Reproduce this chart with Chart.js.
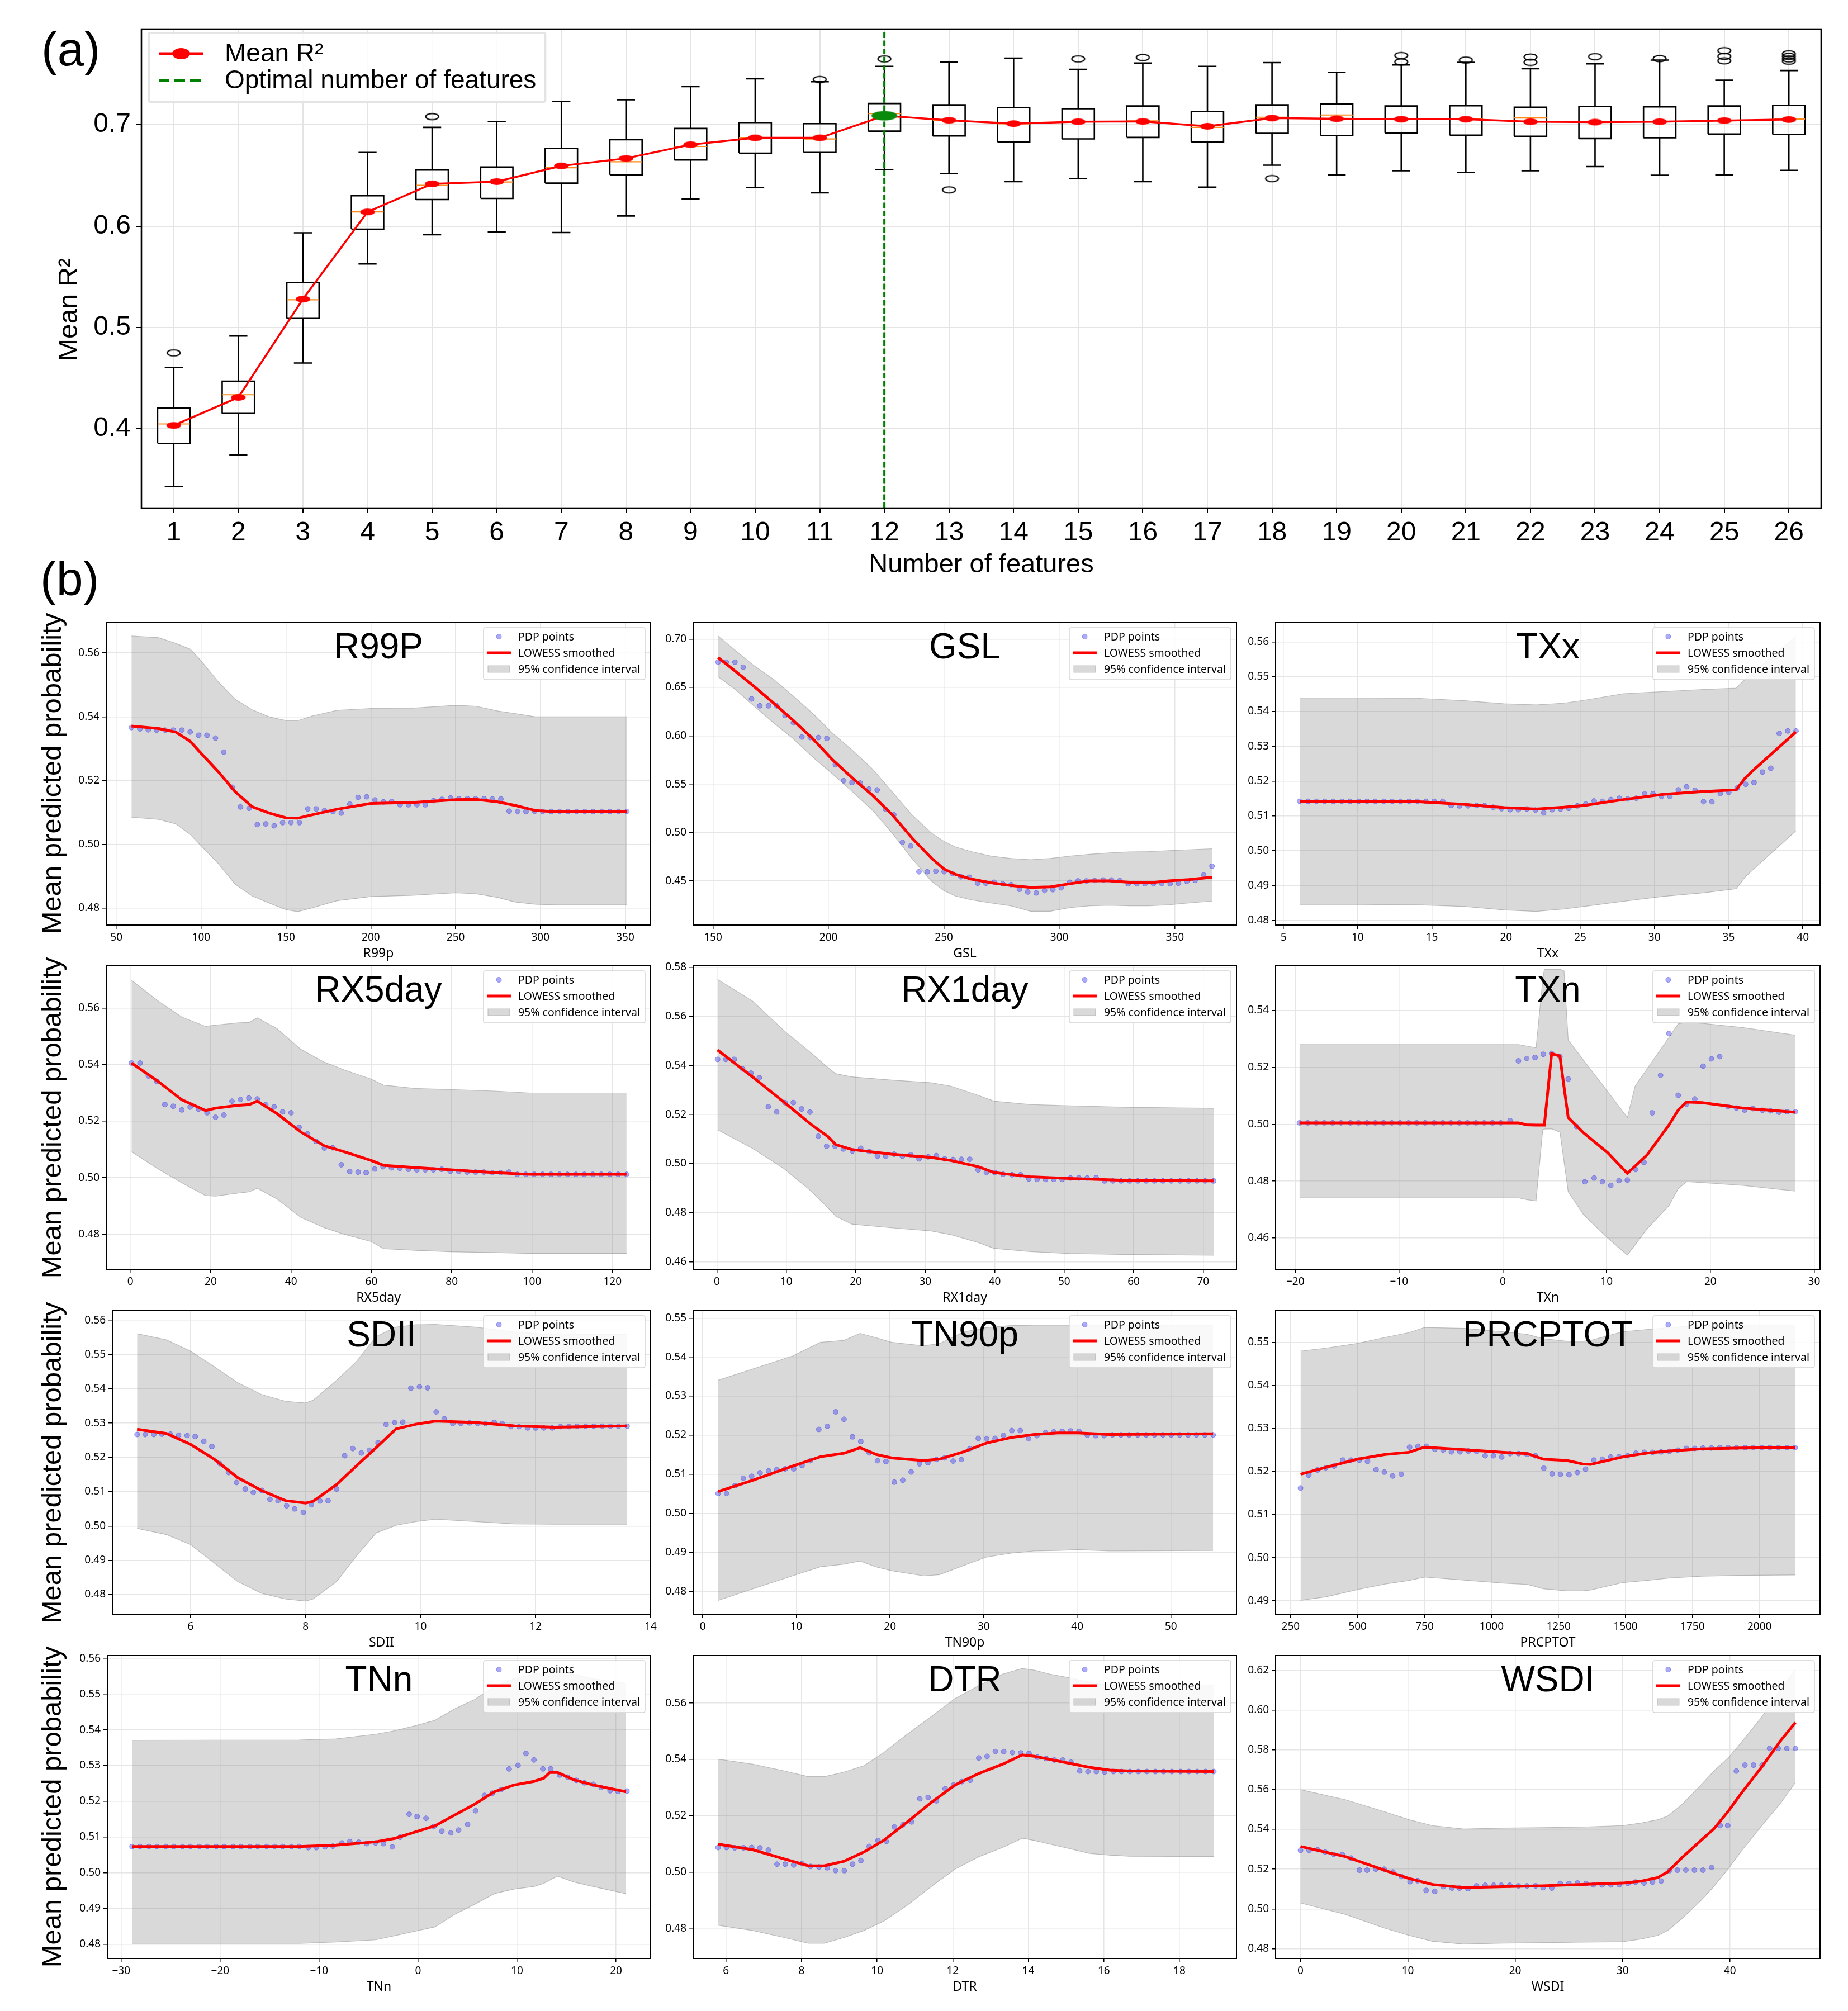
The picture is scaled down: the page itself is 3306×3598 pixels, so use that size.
<!DOCTYPE html>
<html>
<head>
<meta charset="utf-8">
<script src="https://cdn.jsdelivr.net/npm/chart.js"></script>
<style>
  body { margin: 0; background: #fff; }
  #page { position: relative; width: 3306px; height: 3598px; overflow: hidden; background: #fff; }
  #page canvas { position: absolute; }
  .lbl { position: absolute; font-family: "Liberation Sans", Arial, sans-serif; color: #000; white-space: nowrap; line-height: 1; }
  .rot { transform: translate(-50%, -50%) rotate(-90deg); }
</style>
</head>
<body>
<div id="page"></div>
<script>
// ---------- (a) feature selection boxplot ----------
const features = [1,2,3,4,5,6,7,8,9,10,11,12,13,14,15,16,17,18,19,20,21,22,23,24,25,26];
const boxQ1  = [0.3856,0.4151,0.5089,0.5970,0.6262,0.6273,0.6424,0.6506,0.6653,0.6720,0.6727,0.6937,0.6889,0.6830,0.6860,0.6875,0.6830,0.6915,0.6893,0.6919,0.6897,0.6886,0.6863,0.6871,0.6908,0.6904];
const boxMed = [0.4048,0.4336,0.5273,0.6140,0.6402,0.6435,0.6576,0.6635,0.6786,0.6871,0.6860,0.7111,0.7040,0.7010,0.7033,0.7037,0.6974,0.7074,0.7096,0.7055,0.7055,0.7066,0.7026,0.7030,0.7041,0.7055];
const boxQ3  = [0.4207,0.4469,0.5443,0.6299,0.6553,0.6583,0.6768,0.6852,0.6963,0.7022,0.7011,0.7210,0.7196,0.7170,0.7159,0.7185,0.7129,0.7196,0.7207,0.7185,0.7188,0.7173,0.7181,0.7177,0.7185,0.7192];
const whiskLo = [0.3432,0.3742,0.4649,0.5627,0.5915,0.5941,0.5937,0.6100,0.6269,0.6380,0.6328,0.6557,0.6517,0.6439,0.6469,0.6439,0.6384,0.6601,0.6506,0.6546,0.6528,0.6546,0.6587,0.6502,0.6506,0.6550];
const whiskHi = [0.4605,0.4915,0.5934,0.6727,0.6974,0.7030,0.7229,0.7247,0.7376,0.7454,0.7424,0.7576,0.7620,0.7657,0.7546,0.7609,0.7576,0.7613,0.7517,0.7590,0.7616,0.7553,0.7601,0.7638,0.7439,0.7535];
const meanR2 = [0.4033,0.4310,0.5280,0.6140,0.6417,0.6439,0.6594,0.6668,0.6804,0.6871,0.6871,0.7089,0.7044,0.7011,0.7030,0.7033,0.6985,0.7066,0.7059,0.7055,0.7055,0.7030,0.7026,0.7030,0.7041,0.7052];
const outlierX = [1,5,11,12,13,15,16,18,20,20,21,22,22,23,24,25,25,25,26,26,26,26];
const outlierY = [0.4749,0.7080,0.7446,0.7650,0.6358,0.7650,0.7664,0.6469,0.7683,0.7620,0.7638,0.7668,0.7616,0.7672,0.7653,0.7731,0.7675,0.7631,0.7700,0.7675,0.7650,0.7627];
const optimalCount = 12;
const topYTicks = [0.4, 0.5, 0.6, 0.7];

// ---------- (b) partial dependence panels ----------
const r99pX = [58.9,63.8,68.8,73.7,78.7,83.6,88.6,93.5,98.5,103.4,108.4,113.3,118.3,123.2,128.2,133.1,138.1,143.0,148.0,152.9,157.9,162.8,167.8,172.7,177.7,182.6,187.6,192.5,197.5,202.4,207.4,212.3,217.3,222.2,227.2,232.1,237.1,242.0,247.0,251.9,256.9,261.8,266.8,271.7,276.7,281.6,286.6,291.5,296.5,301.4,306.4,311.3,316.3,321.2,326.2,331.1,336.1,341.0,346.0,350.9];
const r99pY = [0.5366,0.5362,0.5359,0.5358,0.5358,0.5358,0.5358,0.5352,0.5342,0.5342,0.5333,0.5289,0.5179,0.5117,0.5113,0.5062,0.5064,0.5058,0.5068,0.5068,0.5068,0.5111,0.5111,0.5106,0.5103,0.5098,0.5126,0.5147,0.5149,0.5139,0.5133,0.5134,0.5124,0.5124,0.5124,0.5124,0.5137,0.5141,0.5145,0.5143,0.5143,0.5143,0.5143,0.5142,0.5142,0.5104,0.5103,0.5103,0.5103,0.5103,0.5103,0.5103,0.5103,0.5103,0.5103,0.5103,0.5103,0.5103,0.5103,0.5103];
const r99pKx = [58.9,75,85,93.5,100,110,120,130,140,150,157,165,180,200,225,250,262,275,285,297,310,351];
const r99pFit = [0.5371,0.5363,0.5352,0.5323,0.5285,0.5228,0.5165,0.5118,0.5098,0.5083,0.5082,0.5092,0.5110,0.5128,0.5131,0.5140,0.5141,0.5133,0.5122,0.5106,0.5102,0.5102];
const r99pHi = [0.5653,0.5648,0.5630,0.5612,0.5575,0.5510,0.5455,0.5422,0.5400,0.5388,0.5388,0.5402,0.5420,0.5426,0.5427,0.5436,0.5433,0.5418,0.5410,0.5400,0.5400,0.5400];
const r99pLo = [0.5085,0.5078,0.5064,0.5031,0.4995,0.4940,0.4875,0.4838,0.4816,0.4795,0.4789,0.4800,0.4823,0.4836,0.4840,0.4848,0.4845,0.4833,0.4819,0.4812,0.4810,0.4810];
const r99pXTicks = [50,100,150,200,250,300,350];
const r99pYTicks = [0.48,0.50,0.52,0.54,0.56];

const gslX = [152.2,155.8,159.5,163.1,166.7,170.3,174.0,177.6,181.2,184.8,188.5,192.1,195.7,199.3,203.0,206.6,210.2,213.8,217.5,221.1,224.7,228.3,232.0,235.6,239.2,242.8,246.5,250.1,253.7,257.3,261.0,264.6,268.2,271.8,275.5,279.1,282.7,286.3,290.0,293.6,297.2,300.8,304.5,308.1,311.7,315.3,319.0,322.6,326.2,329.8,333.5,337.1,340.7,344.3,348.0,351.6,355.2,358.8,362.5,366.1];
const gslY = [0.6762,0.6762,0.6762,0.6710,0.6382,0.6311,0.6311,0.6311,0.6211,0.6135,0.5988,0.5983,0.5983,0.5973,0.5702,0.5536,0.5517,0.5512,0.5451,0.5441,0.5241,0.5184,0.4899,0.4861,0.4595,0.4595,0.4600,0.4595,0.4576,0.4543,0.4538,0.4476,0.4476,0.4486,0.4471,0.4462,0.4414,0.4386,0.4376,0.4400,0.4410,0.4429,0.4486,0.4500,0.4500,0.4505,0.4510,0.4510,0.4505,0.4471,0.4471,0.4471,0.4471,0.4471,0.4471,0.4476,0.4495,0.4505,0.4562,0.4652];
const gslKx = [152.2,159.1,167.6,176.2,184.8,193.3,201.9,210.4,219,227.6,236.1,244.7,250,255,261.8,270.4,278.9,287.5,296.1,304.6,313.2,321.7,330.3,338.9,347.4,356,366.1];
const gslFit = [0.681,0.668,0.6515,0.634,0.6159,0.5969,0.575,0.5564,0.5387,0.5185,0.4946,0.4733,0.4624,0.4567,0.4519,0.4481,0.4453,0.4433,0.4438,0.4471,0.45,0.45,0.4486,0.4481,0.45,0.4514,0.4538];
const gslHi = [0.7033,0.6895,0.6729,0.6586,0.6411,0.623,0.6026,0.585,0.566,0.5422,0.5185,0.4994,0.4909,0.4852,0.4804,0.4757,0.4733,0.4719,0.4733,0.4757,0.4776,0.479,0.48,0.4804,0.4814,0.4823,0.4833];
const gslLo = [0.661,0.6491,0.6311,0.6135,0.5969,0.5778,0.5603,0.5422,0.5232,0.4994,0.4733,0.4495,0.44,0.4343,0.4305,0.4272,0.4243,0.4186,0.4186,0.4224,0.4243,0.4248,0.4243,0.4243,0.4253,0.4272,0.4291];
const gslXTicks = [150,200,250,300,350];
const gslYTicks = [0.45,0.50,0.55,0.60,0.65,0.70];

const txxX = [6.09,6.66,7.22,7.79,8.36,8.93,9.49,10.06,10.63,11.19,11.76,12.33,12.89,13.46,14.03,14.60,15.16,15.73,16.30,16.86,17.43,18.00,18.56,19.13,19.70,20.27,20.83,21.40,21.97,22.53,23.10,23.67,24.23,24.80,25.37,25.94,26.50,27.07,27.64,28.20,28.77,29.34,29.90,30.47,31.04,31.61,32.17,32.74,33.31,33.87,34.44,35.01,35.57,36.14,36.71,37.28,37.84,38.41,38.98,39.54];
const txxY = [0.5142,0.5142,0.5142,0.5142,0.5142,0.5142,0.5142,0.5142,0.5142,0.5142,0.5142,0.5142,0.5142,0.5142,0.5142,0.5142,0.5142,0.5142,0.5130,0.5129,0.5129,0.5130,0.5130,0.5125,0.5121,0.5118,0.5118,0.5120,0.5117,0.5109,0.5118,0.5120,0.5122,0.5129,0.5134,0.5143,0.5142,0.5147,0.5151,0.5149,0.5151,0.5164,0.5164,0.5156,0.5156,0.5175,0.5184,0.5174,0.5141,0.5141,0.5164,0.5168,0.5180,0.5191,0.5196,0.5226,0.5237,0.5337,0.5344,0.5344];
const txxKx = [6.09,10,14,17.22,19.89,22.03,23.9,25.23,27.9,30.57,33.24,35.5,36.12,36.7,39.53];
const txxFit = [0.5142,0.5142,0.5141,0.5133,0.5124,0.5120,0.5125,0.5130,0.5147,0.5162,0.5170,0.5175,0.5209,0.5233,0.5341];
const txxHi = [0.5439,0.5439,0.5438,0.5431,0.5422,0.5419,0.5424,0.5432,0.5451,0.5457,0.5463,0.5467,0.5493,0.5514,0.5616];
const txxLo = [0.4846,0.4846,0.4845,0.4840,0.4830,0.4826,0.4833,0.4840,0.4855,0.4869,0.4879,0.4891,0.4925,0.4948,0.5057];
const txxXTicks = [5,10,15,20,25,30,35,40];
const txxYTicks = [0.48,0.49,0.50,0.51,0.52,0.53,0.54,0.55,0.56];

const rx5X = [0.3,2.4,4.5,6.6,8.6,10.7,12.8,14.9,17.0,19.1,21.2,23.3,25.3,27.4,29.5,31.6,33.7,35.8,37.9,40.0,42.0,44.1,46.2,48.3,50.4,52.5,54.6,56.7,58.7,60.8,62.9,65.0,67.1,69.2,71.3,73.4,75.4,77.5,79.6,81.7,83.8,85.9,88.0,90.1,92.1,94.2,96.3,98.4,100.5,102.6,104.7,106.8,108.8,110.9,113.0,115.1,117.2,119.3,121.4,123.5];
const rx5Y = [0.5406,0.5406,0.5360,0.5341,0.5259,0.5253,0.5240,0.5250,0.5243,0.5230,0.5214,0.5222,0.5271,0.5277,0.5282,0.5279,0.5259,0.5251,0.5233,0.5230,0.5178,0.5155,0.5129,0.5105,0.5106,0.5046,0.5022,0.5020,0.5018,0.5031,0.5039,0.5035,0.5033,0.5030,0.5028,0.5028,0.5028,0.5030,0.5023,0.5022,0.5020,0.5020,0.5020,0.5018,0.5018,0.5020,0.5012,0.5012,0.5012,0.5012,0.5012,0.5012,0.5012,0.5012,0.5012,0.5012,0.5012,0.5012,0.5012,0.5012];
const rx5Kx = [0.3,6.9,12.8,18.7,21.2,26.6,29.6,31.6,36.5,42.4,48.3,53.2,60,63,70.9,79.8,90.6,99.5,123.5];
const rx5Fit = [0.5406,0.5341,0.5276,0.5238,0.5246,0.5256,0.5259,0.5271,0.5227,0.5162,0.5113,0.5092,0.5061,0.5044,0.5036,0.5028,0.5018,0.5012,0.5012];
const rx5Hi = [0.5699,0.5626,0.5569,0.5536,0.5540,0.5548,0.5550,0.5566,0.5528,0.5455,0.5409,0.5382,0.5349,0.5328,0.5316,0.5312,0.5307,0.5300,0.5300];
const rx5Lo = [0.5092,0.5031,0.4982,0.4937,0.4935,0.4945,0.4950,0.4963,0.4925,0.4860,0.4823,0.4800,0.4774,0.4749,0.4743,0.4738,0.4735,0.4732,0.4732];
const rx5XTicks = [0,20,40,60,80,100,120];
const rx5YTicks = [0.48,0.50,0.52,0.54,0.56];

const rx1X = [0.1,1.3,2.5,3.7,4.9,6.1,7.4,8.6,9.8,11.0,12.2,13.4,14.6,15.8,17.0,18.2,19.5,20.7,21.9,23.1,24.3,25.5,26.7,27.9,29.1,30.4,31.6,32.8,34.0,35.2,36.4,37.6,38.8,40.0,41.2,42.5,43.7,44.9,46.1,47.3,48.5,49.7,50.9,52.1,53.3,54.6,55.8,57.0,58.2,59.4,60.6,61.8,63.0,64.2,65.4,66.7,67.9,69.1,70.3,71.5];
const rx1Y = [0.5425,0.5425,0.5425,0.5386,0.5369,0.5350,0.5232,0.5211,0.5249,0.5249,0.5223,0.5210,0.5112,0.5071,0.5071,0.5060,0.5052,0.5063,0.5050,0.5031,0.5030,0.5039,0.5031,0.5037,0.5020,0.5028,0.5033,0.5020,0.5017,0.5018,0.5018,0.4975,0.4964,0.4964,0.4957,0.4955,0.4955,0.4938,0.4936,0.4936,0.4936,0.4936,0.4942,0.4942,0.4942,0.4943,0.4930,0.4930,0.4930,0.4930,0.4930,0.4930,0.4930,0.4930,0.4930,0.4930,0.4930,0.4930,0.4930,0.4930];
const rx1Kx = [0.1,5.1,9.7,13.7,16,17.1,19.4,25.1,30.8,33.7,37.6,39.9,45.1,50.8,59.3,71.5];
const rx1Fit = [0.5463,0.5354,0.5250,0.5157,0.5110,0.5078,0.5058,0.5039,0.5026,0.5013,0.4988,0.4964,0.4947,0.4940,0.4932,0.4930];
const rx1Hi = [0.5751,0.5663,0.5541,0.5448,0.5391,0.5367,0.5354,0.5341,0.5330,0.5316,0.5279,0.5255,0.5241,0.5236,0.5230,0.5226];
const rx1Lo = [0.5138,0.5063,0.4979,0.4885,0.4820,0.4786,0.4754,0.4739,0.4726,0.4711,0.4679,0.4655,0.4642,0.4634,0.4630,0.4627];
const rx1XTicks = [0,10,20,30,40,50,60,70];
const rx1YTicks = [0.46,0.48,0.50,0.52,0.54,0.56,0.58];

const txnX = [-19.6,-18.8,-18.0,-17.2,-16.4,-15.6,-14.7,-13.9,-13.1,-12.3,-11.5,-10.7,-9.9,-9.1,-8.3,-7.5,-6.6,-5.8,-5.0,-4.2,-3.4,-2.6,-1.8,-1.0,-0.2,0.7,1.5,2.3,3.1,3.9,4.7,5.5,6.3,7.1,7.9,8.8,9.6,10.4,11.2,12.0,12.8,13.6,14.4,15.2,16.0,16.9,17.7,18.5,19.3,20.1,20.9,21.7,22.5,23.3,24.1,25.0,25.8,26.6,27.4,28.2];
const txnY = [0.5005,0.5005,0.5005,0.5005,0.5005,0.5005,0.5005,0.5005,0.5005,0.5005,0.5005,0.5005,0.5005,0.5005,0.5005,0.5005,0.5005,0.5005,0.5005,0.5005,0.5005,0.5005,0.5005,0.5005,0.5005,0.5013,0.5223,0.5231,0.5235,0.5246,0.5249,0.5238,0.5159,0.4992,0.4798,0.4811,0.4798,0.4785,0.4802,0.4804,0.4841,0.4866,0.5040,0.5172,0.5319,0.5102,0.5070,0.5089,0.5204,0.5230,0.5238,0.5062,0.5057,0.5050,0.5055,0.5049,0.5047,0.5042,0.5044,0.5044];
const txnKx = [-19.6,1.5,2.3,3.2,3.85,4.0,4.7,5.5,5.9,6.3,7.8,10.1,12,12.75,13.9,16,16.9,17.7,19.2,23.1,28.2];
const txnFit = [0.5005,0.5005,0.4998,0.4997,0.4997,0.4997,0.5248,0.5240,0.5130,0.5024,0.4969,0.4900,0.4827,0.4853,0.4892,0.4997,0.5050,0.5078,0.5076,0.5057,0.5042];
const txnHi = [0.5280,0.5280,0.5275,0.5269,0.5510,0.5545,0.5545,0.5545,0.5539,0.5296,0.5224,0.5115,0.5024,0.5134,0.5195,0.5305,0.5353,0.5358,0.5355,0.5340,0.5313];
const txnLo = [0.4741,0.4741,0.4735,0.4730,0.4981,0.4983,0.4984,0.4972,0.4867,0.4762,0.4681,0.4600,0.4540,0.4576,0.4632,0.4713,0.4773,0.4798,0.4795,0.4785,0.4765];
const txnXTicks = [-20,-10,0,10,20,30];
const txnYTicks = [0.46,0.48,0.50,0.52,0.54];

const sdiiX = [5.07,5.21,5.36,5.50,5.65,5.79,5.94,6.08,6.23,6.37,6.51,6.66,6.80,6.95,7.09,7.24,7.38,7.52,7.67,7.81,7.96,8.10,8.25,8.39,8.54,8.68,8.82,8.97,9.11,9.26,9.40,9.55,9.69,9.83,9.98,10.12,10.27,10.41,10.56,10.70,10.85,10.99,11.13,11.28,11.42,11.57,11.71,11.86,12.00,12.14,12.29,12.43,12.58,12.72,12.87,13.01,13.16,13.30,13.44,13.59];
const sdiiY = [0.5267,0.5267,0.5267,0.5268,0.5268,0.5265,0.5264,0.5261,0.5247,0.5232,0.5182,0.5156,0.5127,0.5108,0.5098,0.5104,0.5078,0.5074,0.5059,0.5050,0.5040,0.5062,0.5073,0.5074,0.5108,0.5205,0.5226,0.5213,0.5221,0.5243,0.5296,0.5302,0.5303,0.5402,0.5406,0.5403,0.5333,0.5313,0.5299,0.5299,0.5301,0.5299,0.5299,0.5302,0.5299,0.5290,0.5290,0.5286,0.5286,0.5286,0.5286,0.5290,0.5290,0.5291,0.5291,0.5291,0.5291,0.5291,0.5291,0.5291];
const sdiiKx = [5.07,5.58,6,6.41,6.82,7.23,7.65,8,8.13,8.54,8.88,9.23,9.57,9.92,10.26,10.95,11.64,12.33,13.59];
const sdiiFit = [0.5282,0.5270,0.5238,0.5195,0.5141,0.5104,0.5074,0.5067,0.5072,0.5121,0.5175,0.5229,0.5283,0.5297,0.5306,0.5302,0.5292,0.5288,0.5292];
const sdiiHi = [0.5561,0.5543,0.5510,0.5465,0.5418,0.5384,0.5364,0.5359,0.5367,0.5425,0.5479,0.5553,0.5580,0.5587,0.5588,0.5580,0.5566,0.5558,0.5559];
const sdiiLo = [0.4993,0.4975,0.4946,0.4892,0.4838,0.4804,0.4787,0.4781,0.4787,0.4838,0.4912,0.4980,0.5002,0.5013,0.5020,0.5013,0.5006,0.5005,0.5005];
const sdiiXTicks = [6,8,10,12,14];
const sdiiYTicks = [0.48,0.49,0.50,0.51,0.52,0.53,0.54,0.55,0.56];

const tn90X = [1.65,2.55,3.44,4.34,5.23,6.13,7.03,7.92,8.82,9.71,10.61,11.51,12.40,13.30,14.19,15.09,15.99,16.88,17.78,18.67,19.57,20.47,21.36,22.26,23.15,24.05,24.95,25.84,26.74,27.63,28.53,29.43,30.32,31.22,32.11,33.01,33.91,34.80,35.70,36.59,37.49,38.39,39.28,40.18,41.07,41.97,42.87,43.76,44.66,45.55,46.45,47.35,48.24,49.14,50.03,50.93,51.83,52.72,53.62,54.51];
const tn90Y = [0.5051,0.5051,0.5071,0.5090,0.5095,0.5104,0.5109,0.5112,0.5114,0.5114,0.5123,0.5135,0.5215,0.5223,0.5260,0.5241,0.5196,0.5184,0.5155,0.5135,0.5133,0.5080,0.5085,0.5106,0.5127,0.5130,0.5138,0.5142,0.5134,0.5138,0.5166,0.5192,0.5191,0.5192,0.5200,0.5212,0.5212,0.5191,0.5199,0.5207,0.5209,0.5210,0.5211,0.5210,0.5200,0.5199,0.5199,0.5201,0.5201,0.5201,0.5201,0.5201,0.5201,0.5201,0.5201,0.5201,0.5201,0.5201,0.5201,0.5201];
const tn90Kx = [1.65,5.37,9.6,12.56,15.1,16.8,18.5,20.2,23.6,25.3,27.8,30.3,32.9,35.4,37.9,40.1,43.4,54.5];
const tn90Fit = [0.5056,0.5085,0.5121,0.5145,0.5154,0.5168,0.5151,0.5142,0.5135,0.5139,0.5157,0.5180,0.5194,0.5202,0.5206,0.5206,0.5202,0.5204];
const tn90Hi = [0.5341,0.5370,0.5403,0.5438,0.5443,0.5461,0.5450,0.5438,0.5429,0.5435,0.5464,0.5476,0.5481,0.5482,0.5482,0.5482,0.5482,0.5482];
const tn90Lo = [0.4777,0.4807,0.4840,0.4863,0.4870,0.4878,0.4863,0.4853,0.4840,0.4843,0.4866,0.4888,0.4898,0.4904,0.4905,0.4907,0.4904,0.4905];
const tn90XTicks = [0,10,20,30,40,50];
const tn90YTicks = [0.48,0.49,0.50,0.51,0.52,0.53,0.54,0.55];

const prcpX = [287,318,350,381,412,444,475,506,537,569,600,631,663,694,725,757,788,819,850,882,913,944,976,1007,1038,1069,1101,1132,1163,1195,1226,1257,1289,1320,1351,1382,1414,1445,1476,1508,1539,1570,1601,1633,1664,1695,1727,1758,1789,1820,1852,1883,1914,1946,1977,2008,2039,2071,2102,2133];
const prcpY = [0.5162,0.5192,0.5204,0.5209,0.5213,0.5227,0.5227,0.5227,0.5224,0.5205,0.5199,0.5190,0.5194,0.5257,0.5259,0.5259,0.5252,0.5250,0.5246,0.5246,0.5248,0.5247,0.5237,0.5237,0.5234,0.5242,0.5242,0.5240,0.5237,0.5208,0.5195,0.5194,0.5193,0.5198,0.5206,0.5227,0.5229,0.5234,0.5235,0.5237,0.5243,0.5245,0.5245,0.5246,0.5247,0.5250,0.5254,0.5254,0.5255,0.5255,0.5256,0.5256,0.5256,0.5256,0.5256,0.5256,0.5256,0.5256,0.5256,0.5256];
const prcpKx = [287,381,499,603,691,750,898,1045,1134,1193,1281,1340,1370,1488,1576,1665,1783,1931,2133];
const prcpFit = [0.5194,0.5210,0.5229,0.5240,0.5245,0.5257,0.5251,0.5245,0.5242,0.5229,0.5226,0.5218,0.5217,0.5234,0.5243,0.5248,0.5253,0.5255,0.5256];
const prcpHi = [0.5480,0.5487,0.5498,0.5512,0.5523,0.5535,0.5533,0.5525,0.5519,0.5509,0.5503,0.5503,0.5505,0.5525,0.5530,0.5535,0.5540,0.5541,0.5541];
const prcpLo = [0.4901,0.4909,0.4926,0.4939,0.4947,0.4955,0.4948,0.4941,0.4938,0.4928,0.4923,0.4923,0.4925,0.4942,0.4947,0.4953,0.4957,0.4959,0.4960];
const prcpXTicks = [250,500,750,1000,1250,1500,1750,2000];
const prcpYTicks = [0.49,0.50,0.51,0.52,0.53,0.54,0.55];

const tnnX = [-28.9,-28.1,-27.2,-26.4,-25.5,-24.7,-23.8,-23.0,-22.1,-21.3,-20.4,-19.6,-18.7,-17.9,-17.0,-16.2,-15.3,-14.5,-13.7,-12.8,-12.0,-11.1,-10.3,-9.4,-8.6,-7.7,-6.9,-6.0,-5.2,-4.3,-3.5,-2.6,-1.8,-0.9,-0.1,0.8,1.6,2.4,3.3,4.1,5.0,5.8,6.7,7.5,8.4,9.2,10.1,10.9,11.7,12.6,13.4,14.3,15.1,16.0,16.8,17.7,18.5,19.4,20.2,21.1];
const tnnY = [0.5074,0.5074,0.5074,0.5074,0.5074,0.5074,0.5074,0.5074,0.5074,0.5074,0.5074,0.5074,0.5074,0.5074,0.5074,0.5074,0.5074,0.5074,0.5074,0.5074,0.5074,0.5071,0.5071,0.5073,0.5075,0.5084,0.5088,0.5086,0.5082,0.5084,0.5082,0.5073,0.5100,0.5164,0.5158,0.5153,0.5130,0.5117,0.5112,0.5120,0.5136,0.5174,0.5217,0.5223,0.5233,0.5291,0.5301,0.5334,0.5316,0.5291,0.5291,0.5274,0.5268,0.5259,0.5252,0.5248,0.5239,0.5230,0.5228,0.5229];
const tnnKx = [-28.9,-12,-8.3,-4.3,-2.3,0,1.7,3.7,5.7,7.7,9.7,11.7,12.7,13.3,14.1,15.7,17.7,21.0];
const tnnFit = [0.5074,0.5074,0.5078,0.5087,0.5097,0.5117,0.5132,0.5162,0.5192,0.5227,0.5246,0.5256,0.5265,0.5281,0.5281,0.5261,0.5246,0.5227];
const tnnHi = [0.5371,0.5372,0.5375,0.5388,0.5398,0.5414,0.5427,0.5459,0.5485,0.5521,0.5543,0.5556,0.5560,0.5563,0.5563,0.5556,0.5543,0.5530];
const tnnLo = [0.4803,0.4803,0.4807,0.4813,0.4825,0.4839,0.4849,0.4884,0.4912,0.4942,0.4955,0.4962,0.4971,0.4980,0.4991,0.4975,0.4962,0.4942];
const tnnXTicks = [-30,-20,-10,0,10,20];
const tnnYTicks = [0.48,0.49,0.50,0.51,0.52,0.53,0.54,0.55,0.56];

const dtrX = [5.79,6.01,6.23,6.46,6.68,6.90,7.12,7.35,7.57,7.79,8.01,8.24,8.46,8.68,8.90,9.13,9.35,9.57,9.79,10.02,10.24,10.46,10.68,10.91,11.13,11.35,11.57,11.80,12.02,12.24,12.46,12.69,12.91,13.13,13.35,13.58,13.80,14.02,14.24,14.47,14.69,14.91,15.13,15.36,15.58,15.80,16.02,16.25,16.47,16.69,16.91,17.14,17.36,17.58,17.80,18.03,18.25,18.47,18.69,18.91];
const dtrY = [0.5087,0.5087,0.5086,0.5086,0.5087,0.5086,0.5078,0.5028,0.5028,0.5025,0.5030,0.5020,0.5018,0.5015,0.5005,0.5005,0.5028,0.5041,0.5091,0.5112,0.5109,0.5160,0.5168,0.5178,0.5260,0.5265,0.5253,0.5296,0.5309,0.5321,0.5326,0.5405,0.5411,0.5428,0.5428,0.5424,0.5423,0.5421,0.5408,0.5403,0.5398,0.5398,0.5390,0.5359,0.5357,0.5357,0.5355,0.5357,0.5357,0.5357,0.5357,0.5357,0.5357,0.5357,0.5357,0.5357,0.5357,0.5357,0.5357,0.5357];
const dtrKx = [5.79,6.71,7.55,8.18,8.6,9.12,9.65,10.17,10.8,11.43,12.06,12.69,13.32,13.84,14.16,14.57,15.1,15.62,16.15,16.67,18.91];
const dtrFit = [0.5099,0.5079,0.5046,0.5022,0.5022,0.5038,0.5071,0.5112,0.5178,0.5247,0.5309,0.5350,0.5383,0.5416,0.5411,0.5400,0.5386,0.5372,0.5362,0.5359,0.5357];
const dtrHi = [0.5401,0.5383,0.5359,0.5339,0.5339,0.5355,0.5378,0.5424,0.5490,0.5552,0.5616,0.5662,0.5703,0.5723,0.5717,0.5703,0.5690,0.5674,0.5662,0.5662,0.5662];
const dtrLo = [0.4811,0.4792,0.4767,0.4747,0.4747,0.4767,0.4792,0.4825,0.4882,0.4948,0.5010,0.5054,0.5087,0.5120,0.5112,0.5099,0.5083,0.5066,0.5060,0.5056,0.5055];
const dtrXTicks = [6,8,10,12,14,16,18];
const dtrYTicks = [0.48,0.50,0.52,0.54,0.56];

const wsdiX = [0.0,0.8,1.6,2.3,3.1,3.9,4.7,5.5,6.2,7.0,7.8,8.6,9.4,10.2,10.9,11.7,12.5,13.3,14.1,14.8,15.6,16.4,17.2,18.0,18.7,19.5,20.3,21.1,21.9,22.6,23.4,24.2,25.0,25.8,26.6,27.3,28.1,28.9,29.7,30.5,31.2,32.0,32.8,33.6,34.4,35.1,35.9,36.7,37.5,38.3,39.1,39.8,40.6,41.4,42.2,43.0,43.7,44.5,45.3,46.1];
const wsdiY = [0.5295,0.5295,0.5298,0.5286,0.5274,0.5274,0.5256,0.5195,0.5195,0.5200,0.5200,0.5186,0.5163,0.5137,0.5142,0.5093,0.5088,0.5112,0.5105,0.5105,0.5102,0.5116,0.5119,0.5119,0.5119,0.5119,0.5116,0.5116,0.5116,0.5107,0.5105,0.5128,0.5128,0.5130,0.5128,0.5121,0.5121,0.5121,0.5121,0.5128,0.5135,0.5130,0.5135,0.5140,0.5193,0.5195,0.5195,0.5195,0.5195,0.5209,0.5419,0.5419,0.5693,0.5723,0.5723,0.5723,0.5807,0.5807,0.5807,0.5807];
const wsdiKx = [0,4.2,7.9,10.1,12.3,15.2,18.9,22.6,26.3,30,31.8,33.3,34.2,35.5,37.3,38.5,39.9,41,42.9,44.7,46.1];
const wsdiFit = [0.5314,0.5263,0.5193,0.5153,0.5123,0.5107,0.5112,0.5116,0.5123,0.5130,0.5140,0.5158,0.5186,0.5256,0.5344,0.5402,0.5495,0.5577,0.5709,0.5844,0.5937];
const wsdiHi = [0.5600,0.5549,0.5488,0.5449,0.5419,0.5402,0.5407,0.5409,0.5412,0.5419,0.5433,0.5449,0.5467,0.5523,0.5623,0.5693,0.5763,0.5833,0.5960,0.6100,0.6205];
const wsdiLo = [0.5030,0.4972,0.4902,0.4867,0.4837,0.4823,0.4828,0.4830,0.4833,0.4835,0.4849,0.4867,0.4891,0.4949,0.5042,0.5112,0.5205,0.5286,0.5414,0.5530,0.5635];
const wsdiXTicks = [0,10,20,30,40];
const wsdiYTicks = [0.48,0.50,0.52,0.54,0.56,0.58,0.60,0.62];

// panel layout: plot box [left, top, right, bottom] in page pixels, axis limits
const panels = [
  { title: 'R99P', xlabel: 'R99p', px: r99pX, py: r99pY, kx: r99pKx, fit: r99pFit, lo: r99pLo, hi: r99pHi, xt: r99pXTicks, yt: r99pYTicks, xr: [44, 365], yr: [0.4747, 0.5695], box: [190, 1114, 1164, 1655] },
  { title: 'GSL', xlabel: 'GSL', px: gslX, py: gslY, kx: gslKx, fit: gslFit, lo: gslLo, hi: gslHi, xt: gslXTicks, yt: gslYTicks, xr: [141.4, 376.7], yr: [0.4044, 0.7171], box: [1240, 1114, 2212, 1655] },
  { title: 'TXx', xlabel: 'TXx', px: txxX, py: txxY, kx: txxKx, fit: txxFit, lo: txxLo, hi: txxHi, xt: txxXTicks, yt: txxYTicks, xr: [4.47, 41.16], yr: [0.4787, 0.5655], box: [2282, 1114, 3256, 1655] },
  { title: 'RX5day', xlabel: 'RX5day', px: rx5X, py: rx5Y, kx: rx5Kx, fit: rx5Fit, lo: rx5Lo, hi: rx5Hi, xt: rx5XTicks, yt: rx5YTicks, xr: [-6.0, 129.5], yr: [0.4676, 0.575], box: [190, 1728, 1164, 2271] },
  { title: 'RX1day', xlabel: 'RX1day', px: rx1X, py: rx1Y, kx: rx1Kx, fit: rx1Fit, lo: rx1Lo, hi: rx1Hi, xt: rx1XTicks, yt: rx1YTicks, xr: [-3.42, 74.8], yr: [0.457, 0.5806], box: [1240, 1728, 2212, 2271] },
  { title: 'TXn', xlabel: 'TXn', px: txnX, py: txnY, kx: txnKx, fit: txnFit, lo: txnLo, hi: txnHi, xt: txnXTicks, yt: txnYTicks, xr: [-21.9, 30.57], yr: [0.449, 0.5557], box: [2282, 1728, 3256, 2271] },
  { title: 'SDII', xlabel: 'SDII', px: sdiiX, py: sdiiY, kx: sdiiKx, fit: sdiiFit, lo: sdiiLo, hi: sdiiHi, xt: sdiiXTicks, yt: sdiiYTicks, xr: [4.64, 14.0], yr: [0.4743, 0.5628], box: [201, 2345, 1164, 2888] },
  { title: 'TN90p', xlabel: 'TN90p', px: tn90X, py: tn90Y, kx: tn90Kx, fit: tn90Fit, lo: tn90Lo, hi: tn90Hi, xt: tn90XTicks, yt: tn90YTicks, xr: [-1.02, 57.0], yr: [0.4742, 0.5519], box: [1240, 2345, 2212, 2888] },
  { title: 'PRCPTOT', xlabel: 'PRCPTOT', px: prcpX, py: prcpY, kx: prcpKx, fit: prcpFit, lo: prcpLo, hi: prcpHi, xt: prcpXTicks, yt: prcpYTicks, xr: [194, 2226], yr: [0.4869, 0.5574], box: [2282, 2345, 3256, 2888] },
  { title: 'TNn', xlabel: 'TNn', px: tnnX, py: tnnY, kx: tnnKx, fit: tnnFit, lo: tnnLo, hi: tnnHi, xt: tnnXTicks, yt: tnnYTicks, xr: [-31.4, 23.5], yr: [0.4761, 0.5608], box: [192, 2962, 1164, 3504] },
  { title: 'DTR', xlabel: 'DTR', px: dtrX, py: dtrY, kx: dtrKx, fit: dtrFit, lo: dtrLo, hi: dtrHi, xt: dtrXTicks, yt: dtrYTicks, xr: [5.13, 19.51], yr: [0.4693, 0.5769], box: [1240, 2962, 2212, 3504] },
  { title: 'WSDI', xlabel: 'WSDI', px: wsdiX, py: wsdiY, kx: wsdiKx, fit: wsdiFit, lo: wsdiLo, hi: wsdiHi, xt: wsdiXTicks, yt: wsdiYTicks, xr: [-2.32, 48.4], yr: [0.4751, 0.6274], box: [2282, 2962, 3256, 3504] }
];

const page = document.getElementById('page');
const zip = (xs, ys) => xs.map((x, i) => ({ x: x, y: ys[i] }));
const fmtX = v => (v < 0 ? '\u2212' + Math.abs(v) : String(v));

function makeCanvas(left, top, w, h) {
  const c = document.createElement('canvas');
  c.width = w; c.height = h;
  c.style.left = left + 'px'; c.style.top = top + 'px';
  c.style.width = w + 'px'; c.style.height = h + 'px';
  page.appendChild(c);
  return c;
}

function addText(text, x, y, size, rotate, extra) {
  const d = document.createElement('div');
  d.className = 'lbl' + (rotate ? ' rot' : '');
  d.textContent = text;
  d.style.left = x + 'px'; d.style.top = y + 'px';
  d.style.fontSize = size + 'px';
  if (extra) Object.assign(d.style, extra);
  page.appendChild(d);
}

function ellipseMark(w, h, fill, stroke, lw) {
  const c = document.createElement('canvas');
  c.width = Math.ceil(w + lw + 2); c.height = Math.ceil(h + lw + 2);
  const g = c.getContext('2d');
  g.beginPath();
  g.ellipse(c.width / 2, c.height / 2, w / 2, h / 2, 0, 0, Math.PI * 2);
  if (fill) { g.fillStyle = fill; g.fill(); }
  if (stroke) { g.lineWidth = lw; g.strokeStyle = stroke; g.stroke(); }
  return c;
}

const redDot = ellipseMark(26, 12, '#ff0000', null, 0);
const greenDot = ellipseMark(46, 17, '#0a8a0a', null, 0);
const hollowMark = ellipseMark(23, 11, null, '#000', 2.2);
const legendRedDot = ellipseMark(32, 20, '#ff0000', null, 0);

function roundRectPath(ctx, x, y, w, h, r) {
  ctx.beginPath();
  ctx.moveTo(x + r, y);
  ctx.lineTo(x + w - r, y); ctx.quadraticCurveTo(x + w, y, x + w, y + r);
  ctx.lineTo(x + w, y + h - r); ctx.quadraticCurveTo(x + w, y + h, x + w - r, y + h);
  ctx.lineTo(x + r, y + h); ctx.quadraticCurveTo(x, y + h, x, y + h - r);
  ctx.lineTo(x, y + r); ctx.quadraticCurveTo(x, y, x + r, y);
  ctx.closePath();
}

// border around the plot area
const framePlugin = {
  id: 'frame',
  afterDraw(chart, args, o) {
    const { ctx, chartArea: a } = chart;
    ctx.save();
    ctx.lineWidth = o.width;
    ctx.strokeStyle = '#000';
    ctx.strokeRect(a.left, a.top, a.right - a.left, a.bottom - a.top);
    ctx.restore();
  }
};

// big title written inside the plot area
const titlePlugin = {
  id: 'innerTitle',
  afterDraw(chart, args, o) {
    if (!o.text) return;
    const { ctx, chartArea: a } = chart;
    ctx.save();
    ctx.font = o.size + 'px "Liberation Sans", Arial, sans-serif';
    ctx.fillStyle = '#000';
    ctx.textAlign = 'center';
    ctx.textBaseline = 'alphabetic';
    ctx.fillText(o.text, (a.left + a.right) / 2, a.top + o.dy);
    ctx.restore();
  }
};

// framed legend drawn inside the plot area
const legendPlugin = {
  id: 'boxLegend',
  afterDraw(chart, args, o) {
    const { ctx, chartArea: a } = chart;
    ctx.save();
    ctx.font = o.font;
    const tw = Math.max(...o.items.map(it => ctx.measureText(it.label).width));
    const w = o.padL + o.markW + o.gap + tw + o.padR;
    const x0 = o.side === 'right' ? a.right - o.dx - w : a.left + o.dx;
    const y0 = a.top + o.dy;
    roundRectPath(ctx, x0, y0, w, o.h, o.radius);
    ctx.fillStyle = 'rgba(255,255,255,0.85)';
    ctx.fill();
    ctx.lineWidth = o.borderWidth;
    ctx.strokeStyle = o.borderColor;
    ctx.stroke();
    o.items.forEach((it, i) => {
      const cy = y0 + o.rows[i];
      const mx = x0 + o.padL;
      const mc = mx + o.markW / 2;
      if (it.kind === 'dot') {
        ctx.beginPath(); ctx.arc(mc, cy, 4.5, 0, Math.PI * 2);
        ctx.fillStyle = it.color; ctx.fill();
        ctx.lineWidth = 1; ctx.strokeStyle = it.edge; ctx.stroke();
      } else if (it.kind === 'line' || it.kind === 'lineDot' || it.kind === 'dash') {
        ctx.beginPath(); ctx.moveTo(mx, cy); ctx.lineTo(mx + o.markW, cy);
        ctx.lineWidth = it.width; ctx.strokeStyle = it.color;
        ctx.setLineDash(it.kind === 'dash' ? it.dash : []);
        ctx.stroke(); ctx.setLineDash([]);
        if (it.kind === 'lineDot') ctx.drawImage(it.mark, mc - it.mark.width / 2, cy - it.mark.height / 2);
      } else if (it.kind === 'patch') {
        ctx.fillStyle = it.color; ctx.fillRect(mx + 2, cy - 6, o.markW - 4, 12);
        ctx.lineWidth = 1; ctx.strokeStyle = it.edge; ctx.strokeRect(mx + 2, cy - 6, o.markW - 4, 12);
      }
      ctx.fillStyle = '#000';
      ctx.textAlign = 'left';
      ctx.textBaseline = 'middle';
      ctx.fillText(it.label, mx + o.markW + o.gap, cy + 1);
    });
    ctx.restore();
  }
};

// ---------- top chart ----------
(function () {
  const L = 253, T = 52, R = 3258, B = 909;
  const padTop = 40, padRight = 40, axH = 140;
  const xr = [0.5, 26.5], yr = [0.3218, 0.7944];
  const boxSegs = [], whiskSegs = [], medSegs = [];
  features.forEach((f, i) => {
    boxSegs.push({ x: f - 0.25, y: boxQ1[i] }, { x: f + 0.25, y: boxQ1[i] }, { x: f + 0.25, y: boxQ3[i] },
                 { x: f - 0.25, y: boxQ3[i] }, { x: f - 0.25, y: boxQ1[i] }, { x: f, y: null });
    whiskSegs.push({ x: f, y: whiskLo[i] }, { x: f, y: boxQ1[i] }, { x: f, y: null },
                   { x: f, y: boxQ3[i] }, { x: f, y: whiskHi[i] }, { x: f, y: null },
                   { x: f - 0.14, y: whiskLo[i] }, { x: f + 0.14, y: whiskLo[i] }, { x: f, y: null },
                   { x: f - 0.14, y: whiskHi[i] }, { x: f + 0.14, y: whiskHi[i] }, { x: f, y: null });
    medSegs.push({ x: f - 0.25, y: boxMed[i] }, { x: f + 0.25, y: boxMed[i] }, { x: f, y: null });
  });
  const cv = makeCanvas(0, T - padTop, R + padRight, B - T + padTop + axH);
  new Chart(cv, {
    type: 'line',
    data: {
      datasets: [
        { label: 'Mean R²', data: zip(features, meanR2), borderColor: '#ff0000', borderWidth: 3.5,
          pointStyle: features.map(f => (f === optimalCount ? greenDot : redDot)), pointRadius: 6 },
        { label: 'Optimal number of features', data: [{ x: optimalCount, y: yr[0] }, { x: optimalCount, y: yr[1] }],
          borderColor: '#008000', borderWidth: 4, borderDash: [10, 4.5], pointRadius: 0 },
        { label: 'median', data: medSegs, borderColor: '#ff8c1a', borderWidth: 2.2, pointRadius: 0 },
        { label: 'box', data: boxSegs, borderColor: '#000', borderWidth: 2.6, pointRadius: 0, borderJoinStyle: 'miter' },
        { label: 'whisker', data: whiskSegs, borderColor: '#000', borderWidth: 2.6, pointRadius: 0 },
        { type: 'scatter', label: 'outliers', data: zip(outlierX, outlierY), pointStyle: hollowMark, pointRadius: 6 }
      ]
    },
    options: {
      responsive: false, animation: false, events: [],
      layout: { padding: { top: padTop, right: padRight, left: 0, bottom: 0 } },
      plugins: {
        legend: { display: false }, tooltip: { enabled: false },
        frame: { width: 2.6 },
        innerTitle: { text: '' },
        boxLegend: {
          side: 'left', dx: 13, dy: 7, h: 123, padL: 18, markW: 80, gap: 38, padR: 16, radius: 3,
          rows: [37, 85], font: '46px "Liberation Sans", Arial, sans-serif',
          borderWidth: 4, borderColor: '#e4e4e4',
          items: [
            { label: 'Mean R²', kind: 'lineDot', color: '#ff0000', width: 5, mark: legendRedDot },
            { label: 'Optimal number of features', kind: 'dash', color: '#008000', width: 4, dash: [19, 9] }
          ]
        }
      },
      scales: {
        x: {
          type: 'linear', min: xr[0], max: xr[1], bounds: 'data',
          afterBuildTicks: s => { s.ticks = features.map(v => ({ value: v })); },
          afterFit: s => { s.height = axH; },
          grid: { color: '#e4e4e4', lineWidth: 2, tickColor: '#000', tickLength: 9, tickWidth: 2 },
          border: { display: false },
          ticks: { color: '#000', padding: 7, autoSkip: false, maxRotation: 0,
                   font: { family: '"Liberation Sans", Arial, sans-serif', size: 48 }, callback: v => String(v) },
          title: { display: true, text: 'Number of features', color: '#000', padding: { top: 0, bottom: 10 },
                   font: { family: '"Liberation Sans", Arial, sans-serif', size: 47 } }
        },
        y: {
          type: 'linear', min: yr[0], max: yr[1], bounds: 'data',
          afterBuildTicks: s => { s.ticks = topYTicks.map(v => ({ value: v })); },
          afterFit: s => { s.width = L; },
          grid: { color: '#e4e4e4', lineWidth: 2, tickColor: '#000', tickLength: 9, tickWidth: 2 },
          border: { display: false },
          ticks: { color: '#000', padding: 10, font: { family: '"Liberation Sans", Arial, sans-serif', size: 48 },
                   callback: v => v.toFixed(1) }
        }
      }
    },
    plugins: [framePlugin, titlePlugin, legendPlugin]
  });
})();

// ---------- partial dependence panels ----------
const axW = 80, axH = 75, padTop = 30, padRight = 32;
const tickFont = { family: '"Noto Sans", "Open Sans", sans-serif', size: 19 };
panels.forEach(p => {
  const [L, T, R, B] = p.box;
  const cv = makeCanvas(L - axW, T - padTop, R - L + axW + padRight, B - T + padTop + axH);
  new Chart(cv, {
    type: 'line',
    data: {
      datasets: [
        { label: 'LOWESS smoothed', data: zip(p.kx, p.fit), borderColor: '#ff0000', borderWidth: 5, pointRadius: 0, fill: false },
        { type: 'scatter', label: 'PDP points', data: zip(p.px, p.py), backgroundColor: 'rgba(60,60,235,0.42)',
          borderColor: 'rgba(60,60,235,0.5)', borderWidth: 1, pointRadius: 4.5 },
        { label: '95% confidence interval', data: zip(p.kx, p.hi), borderColor: 'rgba(150,150,150,0.55)', borderWidth: 1.2,
          backgroundColor: 'rgba(128,128,128,0.3)', pointRadius: 0, fill: '+1' },
        { label: 'ci lower', data: zip(p.kx, p.lo), borderColor: 'rgba(150,150,150,0.55)', borderWidth: 1.2, pointRadius: 0, fill: false }
      ]
    },
    options: {
      responsive: false, animation: false, events: [],
      layout: { padding: { top: padTop, right: padRight, left: 0, bottom: 0 } },
      plugins: {
        legend: { display: false }, tooltip: { enabled: false },
        frame: { width: 2 },
        innerTitle: { text: p.title, size: 64, dy: 64 },
        boxLegend: {
          side: 'right', dx: 10, dy: 9, h: 93, padL: 6, markW: 43, gap: 13, padR: 9, radius: 4,
          rows: [16, 45, 74], font: '19.5px "Noto Sans", "Open Sans", sans-serif',
          borderWidth: 1.5, borderColor: '#d4d4d4',
          items: [
            { label: 'PDP points', kind: 'dot', color: 'rgba(60,60,235,0.42)', edge: 'rgba(60,60,235,0.5)' },
            { label: 'LOWESS smoothed', kind: 'line', color: '#ff0000', width: 5 },
            { label: '95% confidence interval', kind: 'patch', color: 'rgba(128,128,128,0.3)', edge: 'rgba(150,150,150,0.55)' }
          ]
        }
      },
      scales: {
        x: {
          type: 'linear', min: p.xr[0], max: p.xr[1], bounds: 'data',
          afterBuildTicks: s => { s.ticks = p.xt.map(v => ({ value: v })); },
          afterFit: s => { s.height = axH; },
          grid: { color: '#e6e6e6', lineWidth: 1.5, tickColor: '#000', tickLength: 7, tickWidth: 1.5 },
          border: { display: false },
          ticks: { color: '#000', padding: 4, autoSkip: false, maxRotation: 0, font: tickFont, callback: v => fmtX(v) },
          title: { display: true, text: p.xlabel, color: '#000', padding: { top: 0, bottom: 10 },
                   font: { family: '"Noto Sans", "Open Sans", sans-serif', size: 23 } }
        },
        y: {
          type: 'linear', min: p.yr[0], max: p.yr[1], bounds: 'data',
          afterBuildTicks: s => { s.ticks = p.yt.map(v => ({ value: v })); },
          afterFit: s => { s.width = axW; },
          grid: { color: '#e6e6e6', lineWidth: 1.5, tickColor: '#000', tickLength: 7, tickWidth: 1.5 },
          border: { display: false },
          ticks: { color: '#000', padding: 5, font: tickFont, callback: v => v.toFixed(2) }
        }
      }
    },
    plugins: [framePlugin, titlePlugin, legendPlugin]
  });
});

// ---------- page texts ----------
addText('(a)', 74, 44, 86, false);
addText('(b)', 72, 992, 86, false);
addText('Mean R\u00b2', 122, 554, 48, true);
[1384, 2000, 2617, 3233].forEach(cy => addText('Mean predicted probability', 92, cy, 49, true));
</script>
</body>
</html>
